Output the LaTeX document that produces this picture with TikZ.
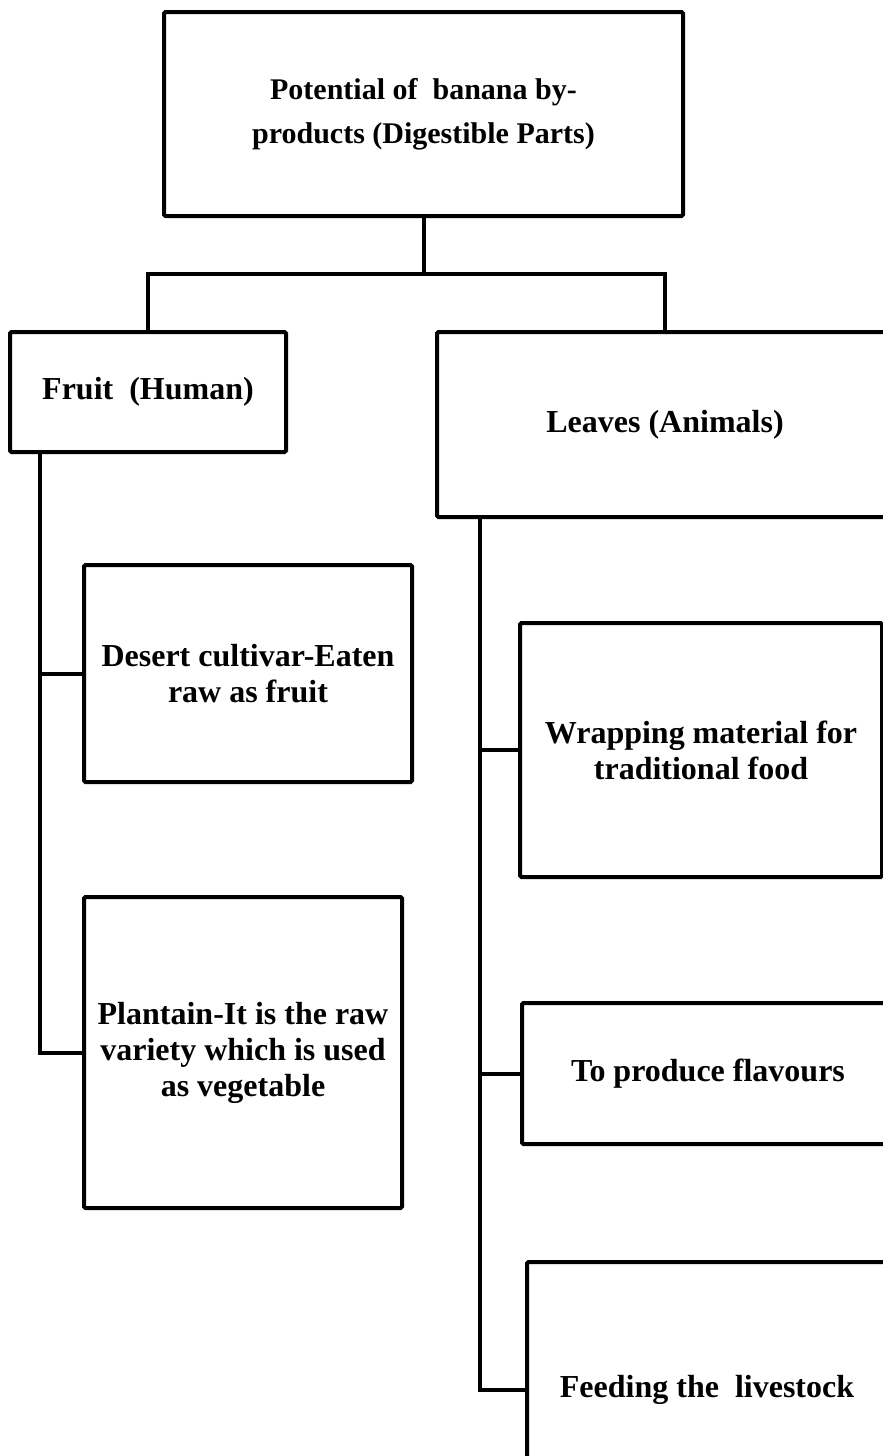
\documentclass[tikz,border=0pt]{standalone}
\usepackage{fontspec}
\setmainfont{Liberation Serif}
\begin{document}
\begin{tikzpicture}[x=1pt,y=-1pt,
  box/.style={draw=black, line width=4pt, rounded corners=1.5pt, fill=white,
    align=center, inner sep=0pt,
    font=\bfseries\fontsize{32}{36}\selectfont},
  link/.style={draw=black, line width=4pt, line join=miter}]
\path[use as bounding box, clip] (0,0) rectangle (883,1456);
\fill[white] (0,0) rectangle (883,1456);

% boxes
\node[box, minimum width=519pt, minimum height=204pt,
  font=\bfseries\fontsize{30}{36}\selectfont] (top) at (423.5,114)
  {Potential of~~banana by-\\[8pt]products (Digestible Parts)};
\node[box, minimum width=276pt, minimum height=120pt] (fruit) at (148,392)
  {Fruit~~(Human)};
\node[box, minimum width=456pt, minimum height=185pt] (leaves) at (665,424.5)
  {Leaves (Animals)};
\node[box, minimum width=328pt, minimum height=217pt] (desert) at (248,673.5)
  {Desert cultivar-Eaten\\raw as fruit};
\node[box, minimum width=318pt, minimum height=311pt] (plantain) at (243,1052.5)
  {Plantain-It is the raw\\variety which is used\\as vegetable};
\node[box, minimum width=362pt, minimum height=254pt] (wrap) at (701,750)
  {Wrapping material for\\traditional food};
\node[box, minimum width=372pt, minimum height=141pt] (flav) at (708,1073.5)
  {To produce flavours};
\node[box, minimum width=360pt, minimum height=256pt] (live) at (707,1390)
  {Feeding the~~livestock};

% connectors
\coordinate (bar) at (423.5,274);
\draw[link] (top.south) -- (bar);
\draw[link] (fruit.north) |- (bar) -| (leaves.north);

\draw[link] ([xshift=32pt]fruit.south west) |- (desert.west);
\draw[link] ([xshift=32pt]fruit.south west) |- (plantain.west);

\draw[link] ([xshift=45pt]leaves.south west) |- (wrap.west);
\draw[link] ([xshift=45pt]leaves.south west) |- (flav.west);
\draw[link] ([xshift=45pt]leaves.south west) |- (live.west);
\end{tikzpicture}
\end{document}
